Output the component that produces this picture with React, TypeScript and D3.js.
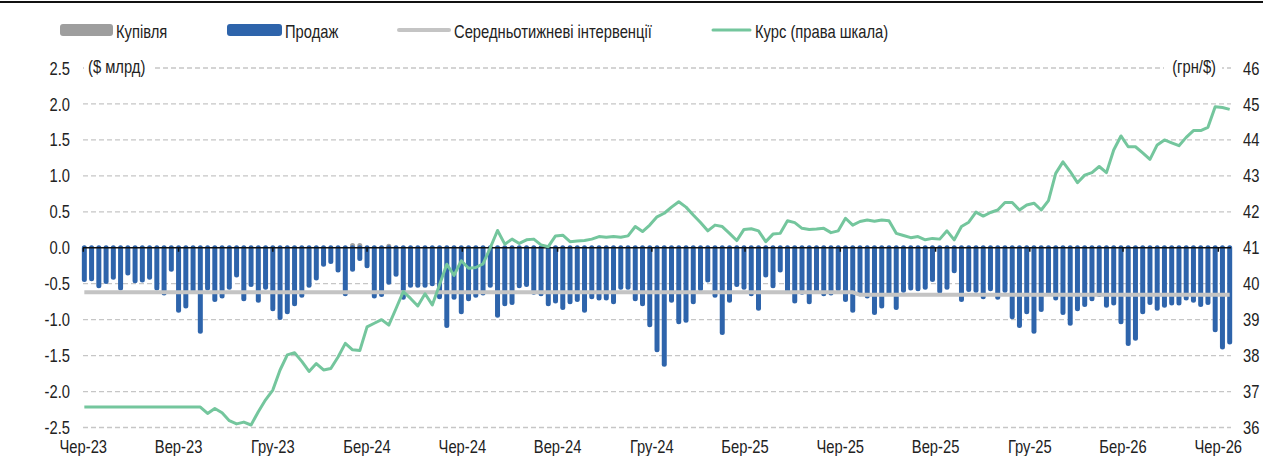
import * as d3 from "d3";

const W = 1263;
const H = 456;

// weeks run Friday to Friday
const firstWeek = new Date(2023, 5, 2);
const lastWeek = new Date(2026, 5, 12);

// NBU sales of FX, $ bn per week (drawn below zero)
const sales = [
  0.44, 0.43, 0.53, 0.47, 0.41, 0.56, 0.35, 0.46, 0.45, 0.41,
  0.56, 0.63, 0.3, 0.87, 0.81, 0.6, 1.16, 0.56, 0.72, 0.67,
  0.55, 0.38, 0.71, 0.51, 0.73, 0.55, 0.85, 0.97, 0.89, 0.78,
  0.66, 0.52, 0.42, 0.23, 0.19, 0.31, 0.64, 0.3, 0.15, 0.25,
  0.67, 0.65, 0.48, 0.37, 0.69, 0.52, 0.52, 0.52, 0.5, 0.68,
  1.08, 0.69, 0.89, 0.71, 0.66, 0.63, 0.52, 0.94, 0.78, 0.76,
  0.53, 0.51, 0.62, 0.64, 0.78, 0.74, 0.83, 0.75, 0.72, 0.87,
  0.68, 0.7, 0.7, 0.75, 0.55, 0.55, 0.71, 0.78, 1.07, 1.42,
  1.62, 0.73, 1.03, 1.01, 0.75, 0.57, 0.45, 0.66, 1.18, 0.73,
  0.51, 0.55, 0.64, 0.84, 0.38, 0.53, 0.31, 0.61, 0.74, 0.62,
  0.75, 0.59, 0.64, 0.63, 0.57, 0.72, 0.87, 0.64, 0.67, 0.9,
  0.81, 0.62, 0.83, 0.59, 0.56, 0.57, 0.55, 0.44, 0.6, 0.55,
  0.32, 0.72, 0.58, 0.59, 0.68, 0.57, 0.69, 0.59, 0.96, 1.08,
  0.89, 1.16, 0.86, 0.62, 0.7, 0.9, 1.05, 0.85, 0.79, 0.71,
  0.65, 0.8, 0.77, 1.03, 1.33, 1.26, 0.89, 0.76, 0.84, 0.8,
  0.77, 0.77, 0.7, 0.73, 0.79, 0.76, 1.14, 1.38, 1.31,
];

// purchases, $ bn
const purchaseDates = ["2024-02-16", "2024-02-23", "2024-03-22"];
const purchases = [0.03, 0.03, 0.02];

// average weekly interventions by period
const avgStarts = ["2023-06-02", "2025-06-20"];
const avgValues = [-0.62, -0.655];

// official rate, UAH per $
const rate = [
  36.57, 36.57, 36.57, 36.57, 36.57, 36.57, 36.57, 36.57, 36.57, 36.57,
  36.57, 36.57, 36.57, 36.57, 36.57, 36.57, 36.57, 36.39, 36.53, 36.41,
  36.19, 36.1, 36.15, 36.07, 36.44, 36.77, 37.04, 37.6, 38.02, 38.08,
  37.84, 37.56, 37.78, 37.6, 37.64, 37.96, 38.34, 38.16, 38.14, 38.8,
  38.9, 39.0, 38.85, 39.31, 39.78, 39.59, 39.38, 39.72, 39.41, 39.97,
  40.54, 40.23, 40.64, 40.43, 40.45, 40.55, 41.0, 41.48, 41.1, 41.24,
  41.12, 41.22, 41.24, 41.08, 41.03, 41.33, 41.35, 41.17, 41.19, 41.2,
  41.24, 41.31, 41.29, 41.31, 41.29, 41.33, 41.59, 41.45, 41.63, 41.86,
  41.96, 42.13, 42.28, 42.13, 41.91, 41.7, 41.47, 41.63, 41.59, 41.4,
  41.2, 41.51, 41.53, 41.47, 41.17, 41.38, 41.4, 41.75, 41.7, 41.54,
  41.51, 41.52, 41.54, 41.42, 41.47, 41.82, 41.63, 41.73, 41.77, 41.74,
  41.77, 41.75, 41.4, 41.34, 41.28, 41.31, 41.22, 41.26, 41.24, 41.47,
  41.22, 41.59, 41.71, 41.99, 41.88, 41.98, 42.05, 42.26, 42.26, 42.05,
  42.19, 42.24, 42.05, 42.31, 43.07, 43.39, 43.12, 42.81, 43.02, 43.09,
  43.26, 43.09, 43.72, 44.11, 43.81, 43.81, 43.64, 43.46, 43.86, 44.0,
  43.92, 43.84, 44.07, 44.26, 44.26, 44.35, 44.92, 44.9, 44.85,
];

const tickLabels = [
  "Чер-23", "Вер-23", "Гру-23", "Бер-24", "Чер-24", "Вер-24", "Гру-24",
  "Бер-25", "Чер-25", "Вер-25", "Гру-25", "Бер-26", "Чер-26",
];
const leftTicks = [2.5, 2.0, 1.5, 1.0, 0.5, 0.0, -0.5, -1.0, -1.5, -2.0, -2.5];
const rightTicks = [46, 45, 44, 43, 42, 41, 40, 39, 38, 37, 36];

const BLUE = "#2e64ab";
const GREEN = "#74c69d";

// narrow sans: Liberation Sans squeezed horizontally
function T({ x, y, anchor = "start", baseline = "central", children }) {
  return (
    <text
      transform={`translate(${x},${y}) scale(0.82,1)`}
      textAnchor={anchor}
      dominantBaseline={baseline}
      fontFamily="'Liberation Sans', Arial, sans-serif"
      fontSize={18}
      fill="#222"
    >
      {children}
    </text>
  );
}

export default function App() {
  const parse = d3.timeParse("%Y-%m-%d");
  const weeks = d3.timeFriday.range(firstWeek, d3.timeDay.offset(lastWeek, 1));
  const tickDates = d3.timeMonth.range(new Date(2023, 5, 1), new Date(2026, 5, 2), 3);

  const x = d3
    .scaleTime()
    .domain([new Date(2023, 5, 1), new Date(2026, 5, 1)])
    .range([83.3, 1218.3]);
  const yL = d3.scaleLinear().domain([-2.5, 2.5]).range([427.5, 68]);
  const yR = d3.scaleLinear().domain([36, 46]).range([427.5, 68]);

  const gx0 = 83;
  const gx1 = 1231;

  const starts = avgStarts.map((s) => parse(s));
  const avgAt = (d) => {
    let v = avgValues[0];
    starts.forEach((s, i) => {
      if (d >= s) v = avgValues[i];
    });
    return v;
  };

  const avgLine = d3
    .line()
    .x((d) => x(d))
    .y((d) => yL(avgAt(d)))(weeks);

  const rateLine = d3
    .line()
    .x((d, i) => x(weeks[i]))
    .y((d) => yR(d))(rate);

  return (
    <svg
      width={W}
      height={H}
      style={{ position: "absolute", left: 0, top: 0, display: "block", background: "#fff" }}
    >
      <line x1={0} x2={W} y1={2} y2={2} stroke="#111" strokeWidth={2} />

      {/* legend */}
      <rect x={60} y={24} width={53} height={12} rx={3} fill="#9e9e9e" />
      <T x={116} y={31}>Купівля</T>
      <rect x={227} y={24} width={55} height={12} rx={3} fill={BLUE} />
      <T x={285} y={31}>Продаж</T>
      <line x1={399} x2={449} y1={30} y2={30} stroke="#c4c4c4" strokeWidth={4} strokeLinecap="round" />
      <T x={454} y={31}>Середньотижневі інтервенції</T>
      <line x1={713} x2={750} y1={30} y2={30} stroke={GREEN} strokeWidth={3} strokeLinecap="round" />
      <T x={755} y={31}>Курс (права шкала)</T>

      {/* grid */}
      {leftTicks
        .filter((t) => t !== 0)
        .map((t) => (
          <line
            key={t}
            x1={gx0}
            x2={gx1}
            y1={yL(t)}
            y2={yL(t)}
            stroke="#c6c6c6"
            strokeWidth={1.3}
            strokeDasharray="5 3"
          />
        ))}
      <rect x={84} y={56} width={70} height={22} fill="#fff" />
      <T x={88} y={yL(2.5) - 2}>($ млрд)</T>
      <rect x={1164} y={56} width={58} height={22} fill="#fff" />
      <T x={1216} y={yL(2.5) - 2} anchor="end">(грн/$)</T>

      {/* axis labels */}
      {leftTicks.map((t) => (
        <T key={t} x={70} y={yL(t)} anchor="end">
          {t.toFixed(1)}
        </T>
      ))}
      {rightTicks.map((t) => (
        <T key={t} x={1243} y={yR(t)}>
          {t}
        </T>
      ))}
      {tickDates.map((d, i) => (
        <T key={i} x={x(d)} y={453} anchor="middle" baseline="auto">
          {tickLabels[i]}
        </T>
      ))}

      {/* purchases */}
      {purchaseDates.map((s, i) => (
        <line
          key={s}
          x1={x(parse(s))}
          x2={x(parse(s))}
          y1={yL(0)}
          y2={yL(purchases[i])}
          stroke="#a3a3a3"
          strokeWidth={5}
          strokeLinecap="round"
        />
      ))}

      {/* sales */}
      {weeks.map((d, i) => (
        <line
          key={i}
          x1={x(d)}
          x2={x(d)}
          y1={yL(0)}
          y2={yL(-sales[i])}
          stroke={BLUE}
          strokeWidth={5}
          strokeLinecap="round"
        />
      ))}

      <path d={avgLine} fill="none" stroke="#c4c4c4" strokeWidth={4} />

      <line x1={gx0} x2={gx1} y1={yL(0)} y2={yL(0)} stroke="#111" strokeWidth={1.5} />
      {tickDates.map((d, i) => (
        <line key={i} x1={x(d)} x2={x(d)} y1={yL(0)} y2={yL(0) + 4} stroke="#111" strokeWidth={1.5} />
      ))}

      <path d={rateLine} fill="none" stroke={GREEN} strokeWidth={3} strokeLinejoin="round" />
    </svg>
  );
}
